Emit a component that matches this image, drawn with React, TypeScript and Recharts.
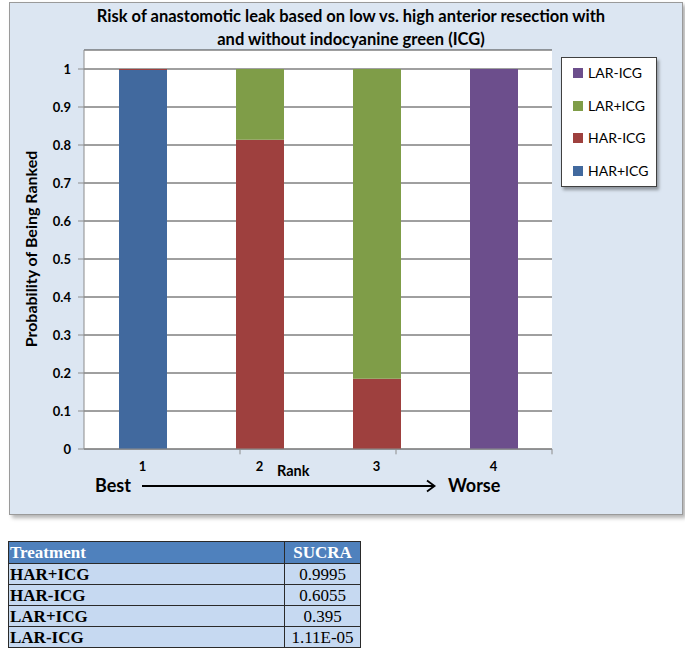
import React from 'react';
import { BarChart, Bar, XAxis, YAxis, CartesianGrid, Legend, ReferenceLine } from 'recharts';

const ranks = ['1', '2', '3', '4'];
const harPlusIcg = [0.9975, 0, 0, 0];
const harMinusIcg = [0.0025, 0.8135, 0.185, 0];
const larPlusIcg = [0, 0.1865, 0.815, 0];
const larMinusIcg = [0, 0, 0, 1];
const seriesNames = ['HAR+ICG', 'HAR-ICG', 'LAR+ICG', 'LAR-ICG'];
const seriesColors = ['#41699E', '#9E403E', '#7F9D48', '#6C4E8C'];
const yTicks = [0, 0.1, 0.2, 0.3, 0.4, 0.5, 0.6, 0.7, 0.8, 0.9, 1];
const boundaryTicks = [1, 2, 3];
const titleLines = [
  'Risk of anastomotic leak based on low vs. high anterior resection with',
  'and without indocyanine green (ICG)',
];
const yLabel = 'Probability of Being Ranked';
const xLabel = 'Rank';
const bestLabel = 'Best';
const worseLabel = 'Worse';
const treatments = ['HAR+ICG', 'HAR-ICG', 'LAR+ICG', 'LAR-ICG'];
const sucraValues = ['0.9995', '0.6055', '0.395', '1.11E-05'];

const seriesValues = [harPlusIcg, harMinusIcg, larPlusIcg, larMinusIcg];
const data = ranks.map((r, i) => {
  const row: Record<string, any> = { rank: r };
  seriesNames.forEach((n, k) => {
    row[n] = seriesValues[k][i];
  });
  return row;
});

const FONT = 'Lato, "Open Sans", sans-serif';

const RankTick = (props: any) => {
  const { x, y, payload } = props;
  return (
    <text x={x} y={y} dy={22} textAnchor="middle" fontFamily={FONT} fontWeight={700} fontSize={13} fill="#000">
      {payload.value}
    </text>
  );
};

const LegendBox = (props: any) => {
  const payload = [...(props.payload || [])].reverse();
  return (
    <div
      style={{
        width: 96,
        height: 130,
        background: '#fff',
        border: '1px solid #404040',
        boxShadow: '2px 3px 3px rgba(0,0,0,0.35)',
        boxSizing: 'border-box',
        position: 'relative',
        fontFamily: FONT,
        fontSize: 14,
        color: '#000',
      }}
    >
      {payload.map((e: any, i: number) => (
        <div
          key={e.value}
          style={{
            position: 'absolute',
            left: 11,
            top: 15 + i * 32.7 - 8,
            height: 16,
            display: 'flex',
            alignItems: 'center',
            whiteSpace: 'nowrap',
          }}
        >
          <span style={{ display: 'inline-block', width: 10, height: 10, background: e.color, marginRight: 5 }} />
          <span style={{ lineHeight: '16px' }}>{e.value}</span>
        </div>
      ))}
    </div>
  );
};

export default function App() {
  return (
    <div style={{ position: 'absolute', left: 0, top: 0, width: 685, height: 649, background: '#fff' }}>
      <div
        style={{
          position: 'absolute',
          left: 9,
          top: 2,
          width: 674,
          height: 513,
          boxSizing: 'border-box',
          background: '#DCE6F2',
          border: '1px solid #9A9A9A',
          boxShadow: '3px 3px 4px rgba(0,0,0,0.3)',
        }}
      />
      <div style={{ position: 'absolute', left: 0, top: 0 }}>
        <BarChart width={685} height={520} data={data} margin={{ top: 50, right: 133, bottom: 41, left: 0 }}>
          <CartesianGrid vertical={false} horizontal={true} stroke="#404040" fill="#ffffff" fillOpacity={1} />
          <XAxis
            dataKey="rank"
            height={30}
            axisLine={{ stroke: '#8C8C8C' }}
            tickLine={false}
            tickSize={0}
            tickMargin={0}
            tick={<RankTick />}
            interval={0}
          />
          <XAxis xAxisId="bnd" type="number" domain={[0, 4]} hide />
          <XAxis xAxisId="top" dataKey="rank" orientation="top" height={0} axisLine={{ stroke: '#303030' }} tick={false} tickLine={false} />
          <YAxis
            domain={[0, 1.05]}
            ticks={yTicks}
            width={84}
            axisLine={{ stroke: '#8C8C8C' }}
            tickLine={{ stroke: '#8C8C8C' }}
            tickSize={6}
            tickMargin={7}
            tick={{ fontFamily: FONT, fontWeight: 700, fontSize: 13, fill: '#000' }}
            interval={0}
            allowDataOverflow
          />
          <YAxis yAxisId="r" orientation="right" domain={[0, 1.05]} width={0} axisLine={{ stroke: '#303030' }} tick={false} tickLine={false} />
          {seriesNames.map((n, k) => (
            <Bar key={n} dataKey={n} name={n} stackId="a" fill={seriesColors[k]} barSize={48} isAnimationActive={false} />
          ))}
          {boundaryTicks.map((b) => (
            <ReferenceLine
              key={b}
              xAxisId="bnd"
              segment={[
                { x: b, y: 0 },
                { x: b, y: -0.014 },
              ]}
              ifOverflow="visible"
              stroke="#8C8C8C"
            />
          ))}
          <Legend
            layout="vertical"
            align="center"
            verticalAlign="middle"
            content={<LegendBox />}
            wrapperStyle={{ position: 'absolute', left: 561, top: 57, width: 96, height: 130 }}
          />
        </BarChart>
      </div>
      <svg width={685} height={520} style={{ position: 'absolute', left: 0, top: 0, pointerEvents: 'none' }}>
        {titleLines.map((t, i) => (
          <text key={i} x={351} y={22 + i * 23} textAnchor="middle" fontFamily={FONT} fontWeight={700} fontSize={16.5} fill="#000">
            {t}
          </text>
        ))}
        <text
          x={30}
          y={249}
          transform="rotate(-90, 30, 249)"
          textAnchor="middle"
          dominantBaseline="central"
          fontFamily={FONT}
          fontWeight={700}
          fontSize={16}
          fill="#000"
        >
          {yLabel}
        </text>
        <text x={277} y={476} fontFamily={FONT} fontWeight={700} fontSize={14.5} fill="#000">
          {xLabel}
        </text>
        <text x={95} y={492} fontFamily={FONT} fontWeight={700} fontSize={18} fill="#000">
          {bestLabel}
        </text>
        <line x1={142} y1={486} x2={434} y2={486} stroke="#000" strokeWidth={1.8} />
        <polyline points="427,480.5 434.5,486 427,491.5" fill="none" stroke="#000" strokeWidth={1.8} />
        <text x={448} y={492} fontFamily={FONT} fontWeight={700} fontSize={18} fill="#000">
          {worseLabel}
        </text>
      </svg>
      <table
        style={{
          position: 'absolute',
          left: 8,
          top: 541,
          width: 352,
          borderCollapse: 'collapse',
          fontFamily: '"Liberation Serif", "Times New Roman", serif',
          fontSize: 17,
          tableLayout: 'fixed',
        }}
      >
        <colgroup>
          <col style={{ width: 276 }} />
          <col style={{ width: 76 }} />
        </colgroup>
        <tbody>
          <tr style={{ height: 22, background: '#4F81BD', color: '#fff', fontWeight: 700 }}>
            <td style={{ border: '1.5px solid #2a2a2a', padding: '0 0 0 1px', lineHeight: 1 }}>Treatment</td>
            <td style={{ border: '1.5px solid #2a2a2a', padding: 0, textAlign: 'center', lineHeight: 1 }}>SUCRA</td>
          </tr>
          {treatments.map((t, i) => (
            <tr key={t} style={{ height: 21, background: '#C6D9F1', color: '#000' }}>
              <td style={{ border: '1.5px solid #2a2a2a', padding: '0 0 0 1px', fontWeight: 700, lineHeight: 1 }}>{t}</td>
              <td style={{ border: '1.5px solid #2a2a2a', padding: 0, textAlign: 'center', lineHeight: 1 }}>{sucraValues[i]}</td>
            </tr>
          ))}
        </tbody>
      </table>
    </div>
  );
}
